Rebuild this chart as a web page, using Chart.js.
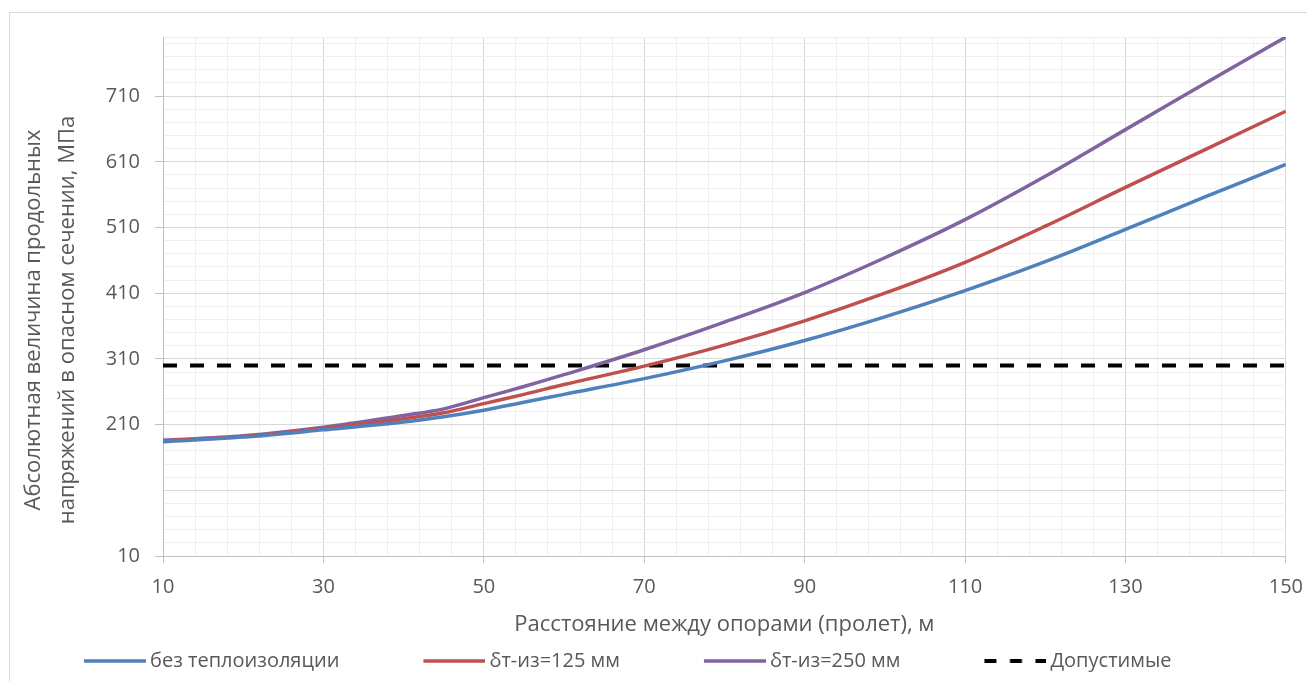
<!DOCTYPE html>
<html>
<head>
<meta charset="utf-8">
<script src="https://cdn.jsdelivr.net/npm/chart.js@4.4.0/dist/chart.umd.min.js"></script>
<style>
  html, body { margin: 0; padding: 0; background: #fff; overflow: hidden; }
  #wrap { position: relative; width: 1307px; height: 681px; }
  #frame { position: absolute; left: 9px; top: 12px; width: 1400px; height: 800px; border: 1px solid #d9d9d9; }
  #chart { position: absolute; left: 0; top: 0; }
</style>
</head>
<body>
<div id="wrap">
  <div id="frame"></div>
  <canvas id="chart" width="1307" height="681"></canvas>
</div>
<script>
// span between supports, m
const spans = [10, 20, 30, 40, 45, 50, 55, 60, 70, 80, 90, 100, 110, 120, 130, 140, 150];
// absolute longitudinal stress, MPa
const stressNoInsul = [184, 191, 202, 214, 222, 232, 244, 256, 280, 307, 338, 374, 414, 458, 507, 557, 606];
const stress125 = [185, 192, 204, 219, 228, 242, 256, 271, 299, 331, 368, 410, 457, 512, 571, 629, 687];
const stress250 = [186, 193, 206, 224, 234, 251, 268, 286, 324, 366, 411, 464, 522, 588, 659, 730, 800];
const allowSpans = [10, 150];
const allowStress = [300, 300];

const seriesNames = ['без теплоизоляции', 'δт-из=125 мм', 'δт-из=250 мм', 'Допустимые'];
const seriesColors = ['#4F81BD', '#C0504D', '#8064A2', '#000000'];

const xLabels = [10, 30, 50, 70, 90, 110, 130, 150];
const yLabels = [10, 210, 310, 410, 510, 610, 710];
const xMin = 10, xMax = 150, xMinorStep = 4;
const yMin = 10, yMax = 800, yMinorStep = 20, yMajorStep = 100;

const yTitleLines = ['Абсолютная величина продольных', 'напряжений в опасном сечении, МПа'];
const xTitle = 'Расстояние между опорами (пролет), м';

const textColor = '#595959';
const fontFamily = '"Open Sans", sans-serif';

function toPoints(xs, ys) {
    return xs.map((x, i) => ({ x: x, y: ys[i] }));
}

// legend sample: line on the right part of a wider transparent canvas
function legendSample(color, dash) {
    const c = document.createElement('canvas');
    c.width = 144;
    c.height = 8;
    const g = c.getContext('2d');
    g.strokeStyle = color;
    g.lineWidth = dash ? 4 : 3.5;
    g.setLineDash(dash || []);
    g.beginPath();
    g.moveTo(c.width - 62, 4);
    g.lineTo(c.width, 4);
    g.stroke();
    return c;
}

function ticksFromStep(min, max, step) {
    const out = [];
    for (let v = min; v <= max; v += step) out.push({ value: v });
    if (out[out.length - 1].value !== max) out.push({ value: max });
    return out;
}

const yTitlePlugin = {
    id: 'yTitle',
    afterDraw(chart) {
        const ctx = chart.ctx;
        ctx.save();
        ctx.fillStyle = textColor;
        ctx.font = '22px ' + fontFamily;
        ctx.textAlign = 'center';
        ctx.textBaseline = 'middle';
        ctx.translate(0, 320);
        ctx.rotate(-Math.PI / 2);
        ctx.fillText(yTitleLines[0], 0, 34);
        ctx.fillText(yTitleLines[1], 0, 68);
        ctx.restore();
    }
};

const lineDataset = (i, ys) => ({
    label: seriesNames[i],
    data: toPoints(spans, ys),
    borderColor: seriesColors[i],
    backgroundColor: seriesColors[i],
    borderWidth: 3.5,
    pointRadius: 0,
    pointHoverRadius: 0,
    pointStyle: legendSample(seriesColors[i]),
    tension: 0.35
});

new Chart(document.getElementById('chart'), {
    type: 'line',
    data: {
        datasets: [
            lineDataset(0, stressNoInsul),
            lineDataset(1, stress125),
            lineDataset(2, stress250),
            {
                label: seriesNames[3],
                data: toPoints(allowSpans, allowStress),
                borderColor: seriesColors[3],
                backgroundColor: seriesColors[3],
                borderWidth: 4,
                borderDash: [14, 13],
                borderCapStyle: 'butt',
                pointRadius: 0,
                pointHoverRadius: 0,
                pointStyle: legendSample(seriesColors[3], [12, 13.5])
            }
        ]
    },
    options: {
        responsive: false,
        animation: false,
        layout: { padding: { left: 0, top: 37, right: 21, bottom: 0 } },
        plugins: {
            legend: {
                position: 'bottom',
                align: 'start',
                labels: {
                    usePointStyle: true,
                    pointStyleWidth: 132,
                    padding: 8,
                    color: textColor,
                    font: { family: fontFamily, size: 20 }
                }
            },
            tooltip: { enabled: false }
        },
        scales: {
            x: {
                type: 'linear',
                min: xMin,
                max: xMax,
                afterBuildTicks: (scale) => { scale.ticks = ticksFromStep(xMin, xMax, xMinorStep); },
                afterFit: (scale) => { scale.height = 87; },
                ticks: {
                    autoSkip: false,
                    maxRotation: 0,
                    padding: 4,
                    color: textColor,
                    font: { family: fontFamily, size: 20, lineHeight: 2 },
                    callback: (v) => xLabels.includes(v) ? String(v) : ''
                },
                grid: {
                    color: (c) => xLabels.includes(c.tick.value) ? '#d9d9d9' : '#efefef',
                    tickColor: (c) => xLabels.includes(c.tick.value) ? '#bfbfbf' : 'rgba(0,0,0,0)',
                    tickLength: 7
                },
                border: { color: '#bfbfbf' },
                title: {
                    display: true,
                    text: xTitle,
                    color: textColor,
                    font: { family: fontFamily, size: 22 },
                    padding: { top: 0, bottom: 5 }
                }
            },
            y: {
                type: 'linear',
                min: yMin,
                max: yMax,
                afterBuildTicks: (scale) => { scale.ticks = ticksFromStep(yMin, yMax, yMinorStep); },
                afterFit: (scale) => { scale.width = 163; },
                ticks: {
                    autoSkip: false,
                    padding: 15,
                    color: textColor,
                    font: { family: fontFamily, size: 20 },
                    callback: (v) => yLabels.includes(v) ? String(v) : ''
                },
                grid: {
                    color: (c) => ((c.tick.value - yMin) % yMajorStep === 0 && c.tick.value !== yMax) ? '#d9d9d9' : '#efefef',
                    tickColor: (c) => yLabels.includes(c.tick.value) ? '#bfbfbf' : 'rgba(0,0,0,0)',
                    tickLength: 8
                },
                border: { color: '#bfbfbf' }
            }
        }
    },
    plugins: [yTitlePlugin]
});
</script>
</body>
</html>
